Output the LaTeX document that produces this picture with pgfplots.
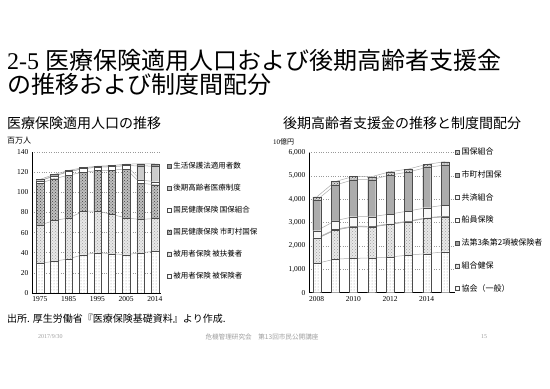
\documentclass[border=0pt]{standalone}
\usepackage{fontspec}
\setmainfont{Liberation Serif}
\newfontfamily\cjk{Noto Sans CJK JP}
\usepackage{pgfplots}
\usepackage{pgfplotstable}
\pgfplotsset{compat=1.18}
\usetikzlibrary{patterns}

\pgfplotstableread{
x hihoken fuyou shicho kumiai kouki seiho
0 29.5 38.0 41.5 2.5 0 1.3
1 31.5 40.5 41.5 2.8 0 1.4
2 34.0 40.5 42.5 3.5 0 1.2
3 38.0 43.0 39.0 3.5 0 1.0
4 40.0 41.5 40.0 3.5 0 0.9
5 39.0 39.0 44.0 3.5 0 1.1
6 38.0 36.5 48.5 3.5 0 1.5
7 40.0 33.0 36.0 3.2 14.0 2.0
8 41.5 32.5 33.5 3.0 15.5 2.2
}\leftdata

\pgfplotstableread{
x kyokai kumiai hou senin kyosai shicho kokuho
0 1257 1060 5 25 310 1310 135
1 1440 1240 5 30 365 1530 150
2 1471 1356 5 25 400 1586 140
3 1486 1330 5 22 414 1586 130
4 1529 1400 5 23 414 1672 143
5 1614 1430 5 22 429 1671 130
6 1671 1520 5 18 429 1728 130
7 1757 1500 5 24 471 1714 143
}\rightdata

\pgfplotsset{
  leftbase/.style={at={(32pt,96pt)}, anchor=south west, scale only axis,
    width=129pt, height=141pt, xmin=-0.556, xmax=8.42, ymin=0, ymax=140,
    ytick={0,20,...,140}},
  rightbase/.style={at={(309pt,96.3pt)}, anchor=south west, scale only axis,
    width=146pt, height=140pt, xmin=-0.42, xmax=7.545, ymin=0, ymax=6000,
    ytick={0,1000,...,6000}},
  gridaxis/.style={stack plots=y, ymajorgrids, xtick=\empty, yticklabels={},
    grid style={dotted, gray!80, line width=0.6pt},
    axis line style={draw=none}, major tick length=0pt},
  sl/.style={gray!65, line width=0.5pt, no marks, forget plot},
  baraxis/.style={ybar stacked, axis x line*=bottom, axis y line*=left,
    axis line style={-, black, line width=0.6pt}, tick style={draw=none},
    /pgf/number format/assume math mode=true,
    ticklabel style={font=\fontsize{7.5}{9}\selectfont},
    legend cell align=left, reverse legend,
    legend image code/.code={\draw[##1, draw=black!70, line width=0.3pt] (0pt,-2pt) rectangle (4pt,2pt);}},
  bb/.style={draw=black!70, line width=0.3pt},
}

\begin{document}
\begin{tikzpicture}
\path[use as bounding box] (0,0) rectangle (550pt,389pt);
\fill[white] (0,0) rectangle (550pt,389pt);

% titles
\node[anchor=west, inner sep=0pt, font=\fontsize{24}{24}\selectfont] at (7pt,329pt) {2-5 {\cjk 医療保険適用人口および後期高齢者支援金}};
\node[anchor=west, inner sep=0pt, font=\fontsize{24}{24}\selectfont] at (7pt,305pt) {\cjk の推移および制度間配分};
\node[anchor=west, inner sep=0pt, font=\fontsize{14}{14}\selectfont] at (7pt,265.5pt) {\cjk 医療保険適用人口の推移};
\node[anchor=west, inner sep=0pt, font=\fontsize{14}{14}\selectfont] at (283pt,265.5pt) {\cjk 後期高齢者支援金の推移と制度間配分};
\node[anchor=west, inner sep=0pt, font=\fontsize{8}{8}\selectfont] at (7pt,248.5pt) {\cjk 百万人};
\node[anchor=west, inner sep=0pt, font=\fontsize{7}{7}\selectfont] at (273pt,247.5pt) {10\cjk 億円};
\node[anchor=west, inner sep=0pt, font=\fontsize{10}{10}\selectfont] at (7pt,70pt) {\cjk 出所. 厚生労働省『医療保険基礎資料』より作成.};
\node[anchor=west, inner sep=0pt, text=gray!75, font=\fontsize{6}{6}\selectfont] at (38pt,52.3pt) {2017/9/30};
\node[inner sep=0pt, text=gray!75, font=\fontsize{6.6}{6.6}\selectfont] at (262pt,52.3pt) {\cjk 危機管理研究会　第13回市民公開講座};
\node[inner sep=0pt, text=gray!75, font=\fontsize{6}{6}\selectfont] at (484pt,52.3pt) {15};

% ---------- left chart ----------
\begin{axis}[leftbase, gridaxis]
\addplot[sl] table[x=x,y=hihoken]{\leftdata};
\addplot[sl] table[x=x,y=fuyou]{\leftdata};
\addplot[sl] table[x=x,y=shicho]{\leftdata};
\addplot[sl] table[x=x,y=kumiai]{\leftdata};
\addplot[sl] table[x=x,y=kouki]{\leftdata};
\addplot[sl] table[x=x,y=seiho]{\leftdata};
\end{axis}
\begin{axis}[leftbase, baraxis, bar width=7.5pt,
  xtick={0,2,4,6,8}, xticklabels={1975,1985,1995,2005,2014},
  legend style={draw=none, fill=none, at={(1.045,0.945)}, anchor=north west,
    font=\cjk\fontsize{7.5}{9}\selectfont, row sep=10.2pt, inner sep=0pt}]
\addplot[bb, fill=white, postaction={pattern=dots, pattern color=gray!75}] table[x=x,y=hihoken]{\leftdata};
\addlegendentry{被用者保険 被保険者}
\addplot[bb, fill=gray!18, postaction={pattern=crosshatch dots, pattern color=gray!75}] table[x=x,y=fuyou]{\leftdata};
\addlegendentry{被用者保険 被扶養者}
\addplot[bb, fill=gray!50, postaction={pattern=crosshatch dots, pattern color=black!75}] table[x=x,y=shicho]{\leftdata};
\addlegendentry{国民健康保険 市町村国保}
\addplot[bb, fill=white] table[x=x,y=kumiai]{\leftdata};
\addlegendentry{国民健康保険 国保組合}
\addplot[bb, fill=gray!40] table[x=x,y=kouki]{\leftdata};
\addlegendentry{後期高齢者医療制度}
\addplot[bb, fill=gray!75] table[x=x,y=seiho]{\leftdata};
\addlegendentry{生活保護法適用者数}
\end{axis}

% ---------- right chart ----------
\begin{axis}[rightbase, gridaxis]
\addplot[sl] table[x=x,y=kyokai]{\rightdata};
\addplot[sl] table[x=x,y=kumiai]{\rightdata};
\addplot[sl] table[x=x,y=hou]{\rightdata};
\addplot[sl] table[x=x,y=senin]{\rightdata};
\addplot[sl] table[x=x,y=kyosai]{\rightdata};
\addplot[sl] table[x=x,y=shicho]{\rightdata};
\addplot[sl] table[x=x,y=kokuho]{\rightdata};
\end{axis}
\begin{axis}[rightbase, baraxis, bar width=8pt,
  xtick={0,2,4,6}, xticklabels={2008,2010,2012,2014},
  /pgf/number format/1000 sep={,}, scaled y ticks=false,
  legend style={draw=none, fill=none, at={(1.0,1.05)}, anchor=north west,
    font=\cjk\fontsize{8}{9.5}\selectfont, row sep=10.5pt, inner sep=0pt}]
\addplot[bb, fill=white, postaction={pattern=dots, pattern color=gray!75}] table[x=x,y=kyokai]{\rightdata};
\addlegendentry{協会（一般）}
\addplot[bb, fill=gray!18, postaction={pattern=crosshatch dots, pattern color=gray!75}] table[x=x,y=kumiai]{\rightdata};
\addlegendentry{組合健保}
\addplot[bb, fill=gray!75] table[x=x,y=hou]{\rightdata};
\addlegendentry{法第3条第2項被保険者}
\addplot[bb, fill=white] table[x=x,y=senin]{\rightdata};
\addlegendentry{船員保険}
\addplot[bb, fill=gray!6] table[x=x,y=kyosai]{\rightdata};
\addlegendentry{共済組合}
\addplot[bb, fill=gray!65] table[x=x,y=shicho]{\rightdata};
\addlegendentry{市町村国保}
\addplot[bb, fill=gray!35, postaction={pattern=crosshatch dots, pattern color=black!70}] table[x=x,y=kokuho]{\rightdata};
\addlegendentry{国保組合}
\end{axis}
\end{tikzpicture}
\end{document}
